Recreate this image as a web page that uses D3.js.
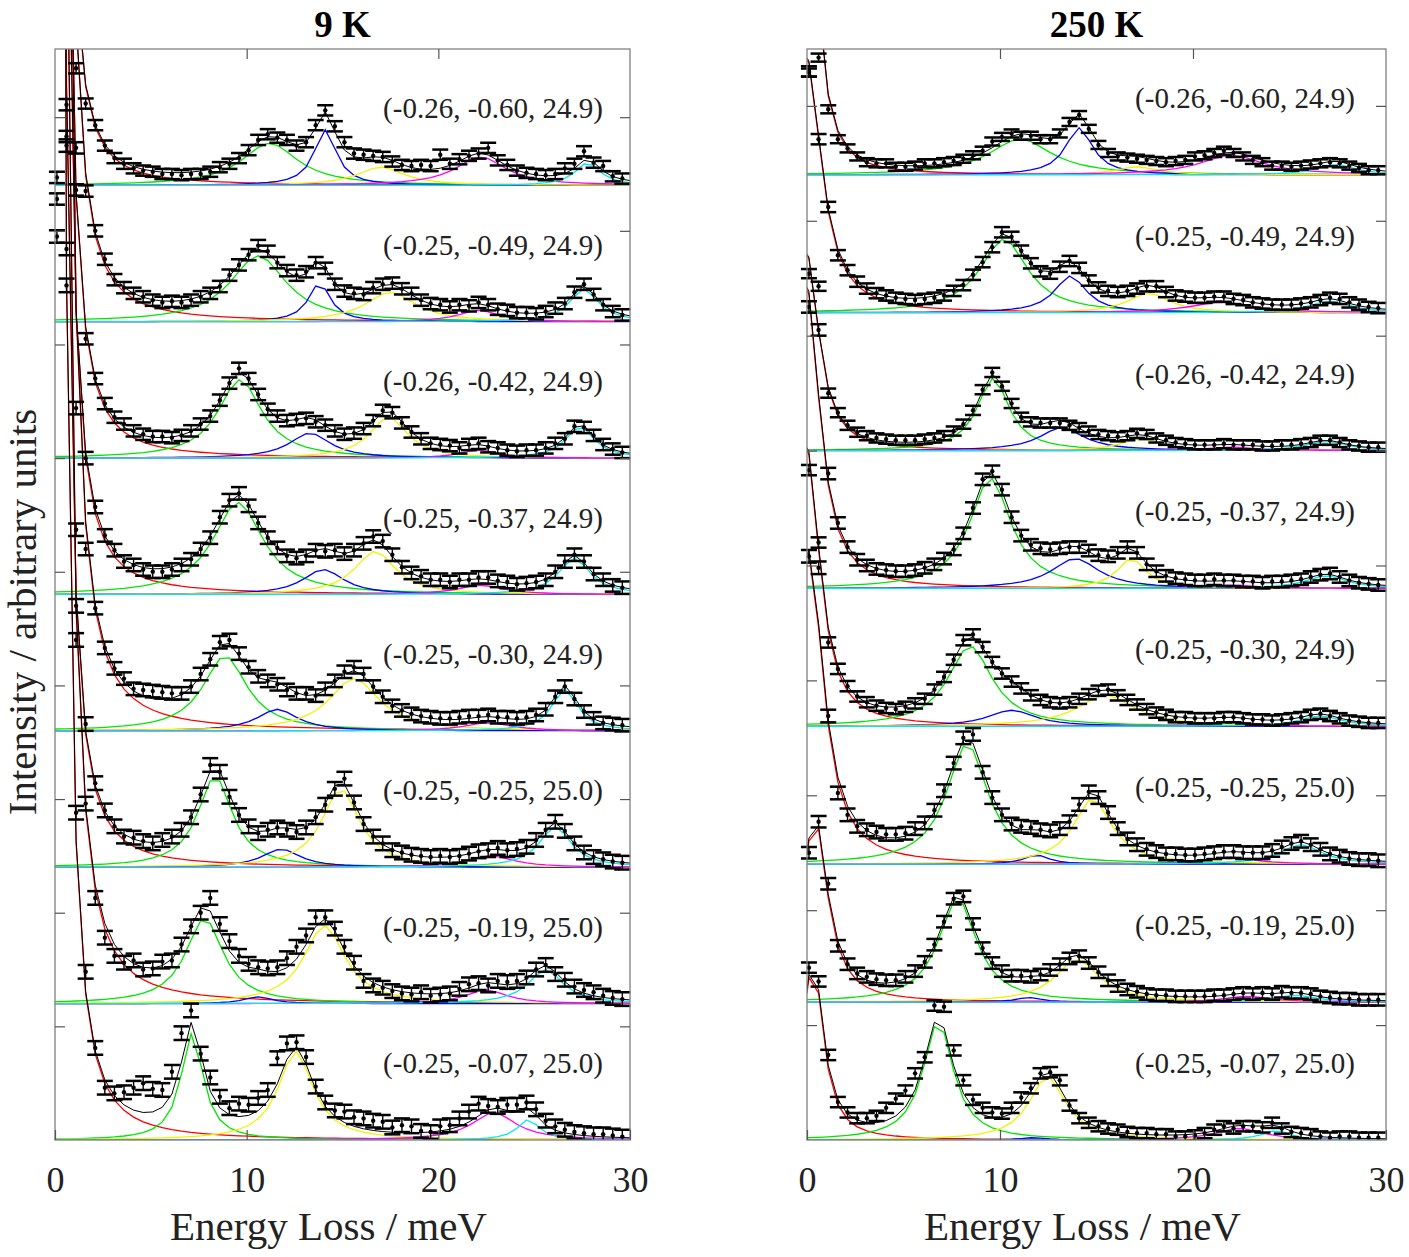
<!DOCTYPE html>
<html>
<head>
<meta charset="utf-8">
<script src="https://cdn.jsdelivr.net/npm/d3@7"></script>
<style>
  body { margin: 0; background: #fff; }
  text { font-family: "Liberation Serif", "Times New Roman", serif; fill: #222; }
</style>
</head>
<body>
<div id="chart"></div>
<script>
// energy transfer grid (meV), shared by every spectrum
const energies = [
  0.1, 0.6, 1.1, 1.6, 2.1, 2.6, 3.1, 3.6, 4.1, 4.6,
  5.1, 5.6, 6.1, 6.6, 7.1, 7.6, 8.1, 8.6, 9.1, 9.6,
  10.1, 10.6, 11.1, 11.6, 12.1, 12.6, 13.1, 13.6, 14.1, 14.6,
  15.1, 15.6, 16.1, 16.6, 17.1, 17.6, 18.1, 18.6, 19.1, 19.6,
  20.1, 20.6, 21.1, 21.6, 22.1, 22.6, 23.1, 23.6, 24.1, 24.6,
  25.1, 25.6, 26.1, 26.6, 27.1, 27.6, 28.1, 28.6, 29.1, 29.6
]

const coldLabels = ["(-0.26, -0.60, 24.9)", "(-0.25, -0.49, 24.9)", "(-0.26, -0.42, 24.9)", "(-0.25, -0.37, 24.9)",
  "(-0.25, -0.30, 24.9)", "(-0.25, -0.25, 25.0)", "(-0.25, -0.19, 25.0)", "(-0.25, -0.07, 25.0)"]
const hotLabels = coldLabels.slice()

// 9 K spectra, top to bottom (intensity above each baseline)
const cold1 = [3.0, 2.5, 1.03, 0.72, 0.53, 0.35, 0.24, 0.19, 0.15, 0.13,
  0.12, 0.10, 0.10, 0.09, 0.10, 0.10, 0.12, 0.16, 0.19, 0.24,
  0.31, 0.40, 0.45, 0.42, 0.40, 0.35, 0.38, 0.53, 0.66, 0.52,
  0.38, 0.28, 0.27, 0.26, 0.25, 0.21, 0.18, 0.17, 0.18, 0.17,
  0.27, 0.19, 0.23, 0.26, 0.28, 0.33, 0.22, 0.18, 0.13, 0.11,
  0.10, 0.09, 0.10, 0.15, 0.19, 0.30, 0.20, 0.17, 0.08, 0.06]
const cold2 = [1.27, 1.91, 1.53, 1.15, 0.80, 0.55, 0.37, 0.30, 0.25, 0.22,
  0.19, 0.17, 0.18, 0.17, 0.19, 0.22, 0.25, 0.31, 0.41, 0.50,
  0.59, 0.67, 0.62, 0.52, 0.45, 0.41, 0.44, 0.52, 0.47, 0.33,
  0.27, 0.25, 0.24, 0.30, 0.33, 0.34, 0.29, 0.25, 0.19, 0.16,
  0.15, 0.13, 0.15, 0.14, 0.17, 0.15, 0.11, 0.10, 0.08, 0.08,
  0.07, 0.09, 0.12, 0.16, 0.26, 0.33, 0.24, 0.15, 0.09, 0.06]
const cold3 = [2.28, 2.83, 2.36, 1.05, 0.70, 0.48, 0.36, 0.30, 0.24, 0.21,
  0.19, 0.19, 0.18, 0.20, 0.24, 0.30, 0.37, 0.51, 0.66, 0.79,
  0.70, 0.56, 0.43, 0.37, 0.33, 0.34, 0.35, 0.32, 0.29, 0.24,
  0.21, 0.22, 0.26, 0.33, 0.42, 0.40, 0.31, 0.23, 0.17, 0.13,
  0.12, 0.11, 0.09, 0.12, 0.13, 0.10, 0.09, 0.07, 0.06, 0.07,
  0.07, 0.09, 0.13, 0.17, 0.28, 0.27, 0.20, 0.12, 0.08, 0.05]
const cold4 = [3.15, 3.95, 1.64, 1.20, 0.77, 0.52, 0.39, 0.29, 0.26, 0.22,
  0.20, 0.20, 0.22, 0.26, 0.31, 0.40, 0.50, 0.68, 0.83, 0.89,
  0.78, 0.63, 0.50, 0.41, 0.34, 0.32, 0.34, 0.39, 0.38, 0.39,
  0.36, 0.39, 0.45, 0.51, 0.47, 0.35, 0.24, 0.19, 0.16, 0.13,
  0.13, 0.11, 0.13, 0.13, 0.15, 0.15, 0.12, 0.11, 0.09, 0.10,
  0.11, 0.13, 0.20, 0.29, 0.35, 0.29, 0.18, 0.13, 0.08, 0.06]
const cold5 = [7.0, 4.24, 1.77, 1.60, 1.08, 0.73, 0.55, 0.46, 0.37, 0.36,
  0.35, 0.34, 0.33, 0.33, 0.39, 0.50, 0.63, 0.78, 0.80, 0.68,
  0.56, 0.48, 0.44, 0.41, 0.36, 0.33, 0.33, 0.31, 0.37, 0.44,
  0.52, 0.56, 0.50, 0.39, 0.30, 0.22, 0.18, 0.15, 0.13, 0.12,
  0.11, 0.11, 0.12, 0.13, 0.13, 0.14, 0.12, 0.12, 0.11, 0.12,
  0.14, 0.19, 0.30, 0.39, 0.28, 0.17, 0.11, 0.07, 0.06, 0.05]
const cold6 = [8.0, 5.12, 2.30, 1.26, 0.74, 0.50, 0.36, 0.27, 0.26, 0.23,
  0.21, 0.24, 0.27, 0.33, 0.44, 0.64, 0.90, 0.84, 0.62, 0.46,
  0.36, 0.30, 0.33, 0.35, 0.33, 0.31, 0.35, 0.44, 0.55, 0.69,
  0.78, 0.57, 0.38, 0.27, 0.21, 0.15, 0.13, 0.11, 0.10, 0.09,
  0.10, 0.09, 0.10, 0.12, 0.14, 0.15, 0.17, 0.15, 0.16, 0.18,
  0.24, 0.33, 0.40, 0.32, 0.21, 0.13, 0.09, 0.07, 0.05, 0.04]
const cold7 = [9.0, 9.0, 3.20, 1.76, 0.93, 0.58, 0.42, 0.36, 0.38, 0.30,
  0.31, 0.37, 0.38, 0.52, 0.68, 0.80, 0.93, 0.70, 0.55, 0.42,
  0.35, 0.32, 0.31, 0.32, 0.40, 0.50, 0.60, 0.76, 0.76, 0.66,
  0.50, 0.36, 0.20, 0.16, 0.14, 0.11, 0.09, 0.08, 0.10, 0.07,
  0.08, 0.09, 0.13, 0.17, 0.18, 0.16, 0.20, 0.19, 0.20, 0.23,
  0.30, 0.34, 0.26, 0.21, 0.15, 0.12, 0.10, 0.07, 0.05, 0.04]
const cold8 = [10.0, 10.0, 2.88, 1.48, 0.81, 0.46, 0.41, 0.42, 0.46, 0.50,
  0.45, 0.44, 0.60, 0.94, 1.14, 0.76, 0.55, 0.38, 0.28, 0.32,
  0.31, 0.37, 0.44, 0.72, 0.85, 0.86, 0.73, 0.47, 0.33, 0.26,
  0.25, 0.20, 0.19, 0.17, 0.16, 0.11, 0.13, 0.12, 0.08, 0.07,
  0.12, 0.13, 0.19, 0.25, 0.32, 0.30, 0.29, 0.31, 0.31, 0.33,
  0.27, 0.17, 0.12, 0.09, 0.07, 0.06, 0.05, 0.05, 0.04, 0.03]

// 250 K spectra, top to bottom
const hot1 = [0.89, 1.02, 0.57, 0.31, 0.23, 0.16, 0.11, 0.10, 0.10, 0.07,
  0.07, 0.08, 0.10, 0.10, 0.11, 0.12, 0.14, 0.17, 0.21, 0.29,
  0.33, 0.36, 0.34, 0.34, 0.31, 0.31, 0.36, 0.46, 0.52, 0.40,
  0.26, 0.19, 0.16, 0.15, 0.14, 0.13, 0.12, 0.11, 0.12, 0.13,
  0.16, 0.17, 0.19, 0.21, 0.19, 0.16, 0.13, 0.11, 0.08, 0.08,
  0.07, 0.08, 0.09, 0.10, 0.11, 0.10, 0.08, 0.06, 0.04, 0.04]
const hot2 = [2.10, 1.51, 0.92, 0.50, 0.37, 0.27, 0.21, 0.17, 0.15, 0.13,
  0.12, 0.11, 0.12, 0.13, 0.15, 0.19, 0.24, 0.33, 0.44, 0.57,
  0.70, 0.66, 0.54, 0.43, 0.36, 0.34, 0.40, 0.45, 0.39, 0.28,
  0.22, 0.19, 0.18, 0.19, 0.21, 0.23, 0.23, 0.18, 0.15, 0.14,
  0.13, 0.13, 0.14, 0.14, 0.12, 0.11, 0.09, 0.08, 0.07, 0.07,
  0.07, 0.08, 0.09, 0.11, 0.13, 0.12, 0.09, 0.07, 0.05, 0.04]
const hot3 = [1.54, 1.43, 0.50, 0.33, 0.22, 0.16, 0.13, 0.11, 0.10, 0.09,
  0.09, 0.09, 0.10, 0.11, 0.13, 0.17, 0.23, 0.35, 0.53, 0.68,
  0.56, 0.41, 0.29, 0.25, 0.24, 0.24, 0.24, 0.22, 0.20, 0.17,
  0.14, 0.13, 0.12, 0.13, 0.15, 0.14, 0.11, 0.09, 0.07, 0.06,
  0.05, 0.05, 0.05, 0.06, 0.05, 0.05, 0.05, 0.04, 0.04, 0.05,
  0.05, 0.06, 0.07, 0.09, 0.09, 0.07, 0.05, 0.04, 0.03, 0.03]
const hot4 = [2.45, 2.25, 1.00, 0.57, 0.36, 0.25, 0.20, 0.17, 0.16, 0.15,
  0.15, 0.16, 0.18, 0.21, 0.26, 0.34, 0.48, 0.70, 0.95, 1.02,
  0.86, 0.62, 0.46, 0.38, 0.35, 0.34, 0.35, 0.36, 0.36, 0.33,
  0.29, 0.28, 0.31, 0.36, 0.31, 0.21, 0.15, 0.11, 0.09, 0.08,
  0.07, 0.07, 0.08, 0.07, 0.07, 0.06, 0.06, 0.05, 0.06, 0.06,
  0.07, 0.08, 0.10, 0.12, 0.13, 0.10, 0.07, 0.05, 0.04, 0.03]
const hot5 = [2.23, 1.60, 0.73, 0.50, 0.35, 0.26, 0.21, 0.18, 0.16, 0.15,
  0.17, 0.20, 0.24, 0.32, 0.43, 0.58, 0.75, 0.80, 0.69, 0.56,
  0.46, 0.39, 0.33, 0.27, 0.23, 0.21, 0.20, 0.21, 0.24, 0.28,
  0.31, 0.32, 0.27, 0.23, 0.19, 0.15, 0.12, 0.10, 0.08, 0.08,
  0.07, 0.07, 0.07, 0.08, 0.08, 0.07, 0.06, 0.06, 0.05, 0.06,
  0.07, 0.08, 0.10, 0.11, 0.09, 0.07, 0.05, 0.04, 0.03, 0.03]
const hot6 = [2.68, 2.58, 1.29, 0.62, 0.43, 0.33, 0.30, 0.28, 0.26, 0.26,
  0.27, 0.31, 0.36, 0.47, 0.64, 0.88, 1.10, 1.13, 0.80, 0.58,
  0.43, 0.35, 0.33, 0.32, 0.30, 0.29, 0.31, 0.37, 0.52, 0.63,
  0.58, 0.45, 0.31, 0.22, 0.17, 0.13, 0.11, 0.09, 0.09, 0.08,
  0.08, 0.09, 0.10, 0.11, 0.11, 0.10, 0.10, 0.10, 0.12, 0.15,
  0.18, 0.20, 0.17, 0.13, 0.09, 0.07, 0.05, 0.04, 0.04, 0.03]
const hot7 = [1.30, 1.57, 1.03, 0.49, 0.33, 0.25, 0.22, 0.20, 0.19, 0.19,
  0.22, 0.27, 0.35, 0.50, 0.70, 0.90, 0.92, 0.68, 0.47, 0.34,
  0.27, 0.23, 0.23, 0.22, 0.24, 0.28, 0.33, 0.38, 0.40, 0.34,
  0.26, 0.19, 0.14, 0.11, 0.09, 0.07, 0.06, 0.06, 0.05, 0.05,
  0.05, 0.05, 0.06, 0.06, 0.07, 0.08, 0.07, 0.08, 0.07, 0.09,
  0.08, 0.08, 0.07, 0.05, 0.04, 0.03, 0.03, 0.02, 0.02, 0.02]
const hot8 = [1.50, 1.38, 0.74, 0.33, 0.24, 0.19, 0.19, 0.21, 0.28, 0.36,
  0.43, 0.58, 0.72, 1.17, 1.16, 0.78, 0.52, 0.35, 0.28, 0.24,
  0.23, 0.28, 0.37, 0.45, 0.58, 0.59, 0.52, 0.30, 0.19, 0.15,
  0.12, 0.10, 0.09, 0.07, 0.06, 0.06, 0.05, 0.05, 0.03, 0.03,
  0.04, 0.06, 0.09, 0.12, 0.10, 0.12, 0.12, 0.11, 0.15, 0.10,
  0.07, 0.06, 0.05, 0.03, 0.02, 0.03, 0.03, 0.02, 0.02, 0.02]

// error bar half heights per spectrum
const coldErr = [0.045, 0.05, 0.05, 0.055, 0.055, 0.06, 0.06, 0.06]
const hotErr = [0.035, 0.045, 0.04, 0.05, 0.045, 0.055, 0.05, 0.045]

// fitted Lorentzians [centre meV, height, half width]
const coldElastic = [[0, 25.6, 0.3], [0, 37.8, 0.3], [0, 33.3, 0.3], [0, 35.6, 0.3],
  [0, 53.3, 0.3], [0, 34.4, 0.3], [0, 50.0, 0.3], [0, 37.8, 0.3]]
const coldGreen = [[11.2, 0.37, 1.8], [10.6, 0.58, 1.8], [9.65, 0.69, 1.4], [9.55, 0.81, 1.6],
  [8.87, 0.66, 1.4], [8.35, 0.80, 1.1], [7.8, 0.75, 1.2], [7.15, 0.94, 0.7]]
const coldBlue = [[14.1, 0.49, 0.7], [13.8, 0.34, 0.7], [13.3, 0.22, 1.3], [14.0, 0.22, 1.3],
  [11.6, 0.19, 1.3], [11.8, 0.16, 1.2], [10.6, 0.06, 0.9], [11.5, 0.0, 1.0]]
const coldYellow = [[17.0, 0.16, 1.5], [17.5, 0.26, 1.6], [17.4, 0.36, 1.2], [16.7, 0.38, 1.3],
  [15.6, 0.46, 1.6], [14.9, 0.69, 1.2], [14.06, 0.69, 1.3], [12.56, 0.78, 1.1]]
const coldMagenta = [[22.2, 0.25, 1.6], [22.1, 0.10, 1.3], [22.1, 0.07, 1.2], [22.2, 0.08, 1.5],
  [22.6, 0.07, 1.5], [22.7, 0.10, 1.5], [22.5, 0.12, 1.3], [22.9, 0.24, 1.4]]
const coldCyan = [[27.8, 0.20, 0.8], [27.6, 0.29, 0.9], [27.4, 0.28, 0.9], [27.1, 0.32, 1.0],
  [26.6, 0.37, 0.8], [26.1, 0.36, 1.0], [25.6, 0.30, 1.1], [24.7, 0.18, 0.7]]

const hotElastic = [[0, 3.0, 0.6], [0, 2.2, 0.9], [0, 1.7, 0.75], [0, 2.6, 0.8],
  [0, 2.4, 0.8], [0.1, 2.7, 0.9], [0.4, 1.6, 0.8], [0.3, 1.55, 0.65]]
const hotGreen = [[11.05, 0.31, 2.0], [10.2, 0.64, 1.5], [9.65, 0.63, 1.0], [9.5, 0.96, 1.3],
  [8.45, 0.70, 1.4], [8.3, 1.05, 1.3], [7.8, 0.90, 1.2], [6.8, 1.03, 0.95]]
const hotBlue = [[14.1, 0.41, 0.85], [13.65, 0.32, 1.0], [13.2, 0.20, 1.4], [13.9, 0.26, 1.5],
  [10.6, 0.14, 1.5], [11.9, 0.08, 0.8], [11.5, 0.04, 0.8], [11.7, 0.02, 0.8]]
const hotYellow = [[17.1, 0.07, 1.3], [17.7, 0.17, 1.3], [17.3, 0.10, 1.3], [16.8, 0.26, 0.9],
  [15.5, 0.27, 1.8], [14.8, 0.57, 1.2], [14.0, 0.37, 1.4], [12.45, 0.55, 1.15]]
const hotMagenta = [[22.0, 0.17, 2.0], [21.5, 0.09, 2.0], [22.0, 0.03, 1.5], [22.0, 0.03, 1.5],
  [22.0, 0.04, 1.5], [22.0, 0.06, 1.5], [22.8, 0.05, 1.5], [22.4, 0.10, 1.5]]
const hotCyan = [[27.4, 0.09, 1.2], [27.1, 0.10, 1.3], [26.9, 0.08, 1.3], [26.9, 0.11, 1.3],
  [26.6, 0.09, 1.3], [25.6, 0.17, 1.3], [25.3, 0.06, 1.3], [24.3, 0.08, 0.9]]

const stackStep = 1.2
const compColors = ["#ff0000", "#00e600", "#0000ff", "#f2f200", "#ff00ff", "#00e8f0"]

const width = 1409, height = 1257
const plotTop = 49, plotBottom = 1140

const svg = d3.select("#chart")
    .append("svg")
    .attr("width", width)
    .attr("height", height)

const lorentz = (E, p) => p[1] * p[2] * p[2] / ((E - p[0]) * (E - p[0]) + p[2] * p[2])

const columns = [
    {
        title: "9 K", x0: 55, x1: 630, yMax: 9.6, labels: coldLabels, err: coldErr,
        spectra: [cold1, cold2, cold3, cold4, cold5, cold6, cold7, cold8],
        comps: [coldElastic, coldGreen, coldBlue, coldYellow, coldMagenta, coldCyan],
        labelInset: 27
    },
    {
        title: "250 K", x0: 807, x1: 1386, yMax: 9.495, labels: hotLabels, err: hotErr,
        spectra: [hot1, hot2, hot3, hot4, hot5, hot6, hot7, hot8],
        comps: [hotElastic, hotGreen, hotBlue, hotYellow, hotMagenta, hotCyan],
        labelInset: 31
    }
]

// model curves are evaluated on the data grid plus the two ends of the axis
const curveE = [0].concat(energies, [30])

columns.forEach((col, ci) => {
    let x = d3.scaleLinear().domain([0, 30]).range([col.x0, col.x1])
    let y = d3.scaleLinear().domain([0, col.yMax]).range([plotBottom, plotTop])

    svg.append("clipPath")
        .attr("id", "clip" + ci)
        .append("rect")
        .attr("x", col.x0 - 12)
        .attr("y", plotTop)
        .attr("width", col.x1 - col.x0 + 24)
        .attr("height", plotBottom - plotTop)

    svg.append("clipPath")
        .attr("id", "clipc" + ci)
        .append("rect")
        .attr("x", col.x0)
        .attr("y", plotTop)
        .attr("width", col.x1 - col.x0)
        .attr("height", plotBottom - plotTop)

    let lines = svg.append("g").attr("clip-path", "url(#clipc" + ci + ")")
    let marks = svg.append("g").attr("clip-path", "url(#clip" + ci + ")")

    col.spectra.forEach((counts, j) => {
        let off = (col.spectra.length - 1 - j) * stackStep
        let params = col.comps.map(c => c[j])
        let line = d3.line()
            .x(d => x(d[0]))
            .y(d => y(d[1] + off))

        params.forEach((p, k) => {
            lines.append("path")
                .datum(curveE.map(E => [E, lorentz(E, p)]))
                .attr("d", line)
                .attr("fill", "none")
                .attr("stroke", compColors[k])
                .attr("stroke-width", 1.3)
        })

        lines.append("path")
            .datum(curveE.map(E => [E, d3.sum(params, p => lorentz(E, p))]))
            .attr("d", line)
            .attr("fill", "none")
            .attr("stroke", "#000")
            .attr("stroke-width", 1)

        let err = col.err[j]
        let pts = marks.append("g")
            .selectAll("g")
            .data(energies.map((E, i) => [E, counts[i]]))
            .enter()
            .append("g")

        pts.append("line")
            .attr("x1", d => x(d[0]))
            .attr("x2", d => x(d[0]))
            .attr("y1", d => y(d[1] + off - err))
            .attr("y2", d => y(d[1] + off + err))
            .attr("stroke", "#000")
            .attr("stroke-width", 1.4)

        ;[-1, 1].forEach(s => {
            pts.append("line")
                .attr("x1", d => x(d[0]) - 8)
                .attr("x2", d => x(d[0]) + 8)
                .attr("y1", d => y(d[1] + off + s * err))
                .attr("y2", d => y(d[1] + off + s * err))
                .attr("stroke", "#000")
                .attr("stroke-width", 2.5)
        })

        pts.append("circle")
            .attr("cx", d => x(d[0]))
            .attr("cy", d => y(d[1] + off))
            .attr("r", 2.2)
            .attr("fill", "#000")

        svg.append("text")
            .attr("x", col.x1 - col.labelInset)
            .attr("y", y(off) - 67)
            .attr("text-anchor", "end")
            .attr("font-size", 29)
            .text(col.labels[j])
    })

    // frame
    svg.append("rect")
        .attr("x", col.x0)
        .attr("y", plotTop)
        .attr("width", col.x1 - col.x0)
        .attr("height", plotBottom - plotTop)
        .attr("fill", "none")
        .attr("stroke", "#808080")
        .attr("stroke-width", 1.3)

    let yTicks = d3.range(1, Math.floor(col.yMax) + 1)

    let axes = [
        svg.append("g").attr("transform", "translate(" + col.x0 + ",0)")
            .call(d3.axisLeft(y).tickValues(yTicks).tickSize(-10).tickFormat("")),
        svg.append("g").attr("transform", "translate(" + col.x1 + ",0)")
            .call(d3.axisRight(y).tickValues(yTicks).tickSize(-10).tickFormat("")),
        svg.append("g").attr("transform", "translate(0," + plotTop + ")")
            .call(d3.axisTop(x).tickValues([10, 20]).tickSize(-10).tickFormat("")),
        svg.append("g").attr("transform", "translate(0," + plotBottom + ")")
            .call(d3.axisBottom(x).tickValues([0, 10, 20, 30]).tickSize(-10).tickPadding(26).tickFormat(d3.format("d")))
    ]
    axes.forEach(a => {
        a.select(".domain").remove()
        a.selectAll(".tick line").attr("stroke", "#555").attr("stroke-width", 1.2)
        a.selectAll(".tick text")
            .attr("font-size", 36)
            .attr("font-family", "Liberation Serif, serif")
            .attr("fill", "#222")
    })

    svg.append("text")
        .attr("x", (col.x0 + col.x1) / 2 - 14)
        .attr("y", 1240)
        .attr("text-anchor", "middle")
        .attr("font-size", 41)
        .text("Energy Loss / meV")

    svg.append("text")
        .attr("x", (col.x0 + col.x1) / 2)
        .attr("y", 37)
        .attr("text-anchor", "middle")
        .attr("font-size", 37)
        .attr("font-weight", "bold")
        .style("fill", "#000")
        .text(col.title)
})

svg.append("text")
    .attr("transform", "translate(36,612) rotate(-90)")
    .attr("text-anchor", "middle")
    .attr("font-size", 41)
    .text("Intensity / arbitrary units")
</script>
</body>
</html>
